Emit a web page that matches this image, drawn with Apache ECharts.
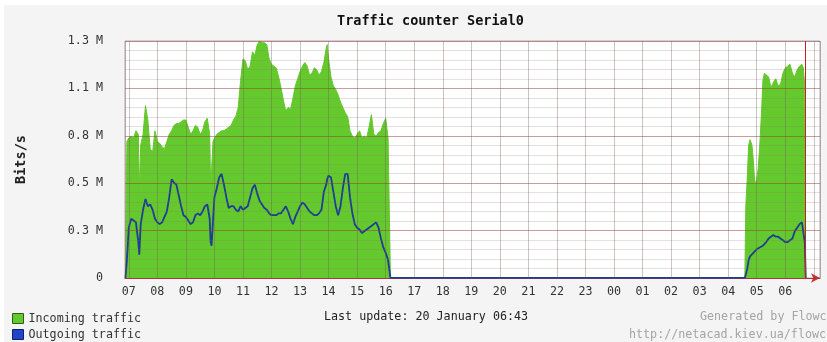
<!DOCTYPE html>
<html>
<head>
<meta charset="utf-8">
<script src="https://cdn.jsdelivr.net/npm/echarts@6/dist/echarts.min.js"></script>
<style>
  html, body { margin: 0; padding: 0; background: #ffffff; }
  #frame { position: relative; width: 827px; height: 342px; overflow: hidden; background: #ffffff; }
  #chart { position: absolute; left: 4px; top: 5px; width: 823px; height: 337px; }
</style>
</head>
<body>
<div id="frame"><div id="chart"></div></div>
<script>
// Sample times (HH:MM, rolling over to the next day when the clock wraps)
const times = [
  '06:53','06:56','07:00','07:05','07:10','07:15','07:20','07:22','07:25','07:30',
  '07:35','07:40','07:45','07:50','07:55','08:00','08:05','08:10','08:15','08:20',
  '08:25','08:30','08:35','08:40','08:45','08:50','08:55','09:00','09:05','09:10',
  '09:15','09:20','09:25','09:30','09:35','09:40','09:45','09:50','09:52','09:54',
  '09:57','10:00','10:05','10:10','10:15','10:20','10:25','10:30','10:35','10:40',
  '10:45','10:50','10:55','11:00','11:05','11:10','11:15','11:20','11:25','11:30',
  '11:35','11:40','11:45','11:50','11:55','12:00','12:05','12:10','12:15','12:20',
  '12:25','12:30','12:35','12:40','12:45','12:50','12:55','13:00','13:05','13:10',
  '13:15','13:20','13:25','13:30','13:35','13:40','13:45','13:50','13:55','13:57',
  '14:00','14:05','14:10','14:15','14:20','14:25','14:30','14:35','14:40','14:45',
  '14:50','14:55','15:00','15:05','15:10','15:15','15:20','15:25','15:30','15:35',
  '15:40','15:45','15:50','15:55','16:00','16:05','16:10',
  '04:35','04:37','04:40','04:43','04:46','04:50','04:53','04:56','05:00','05:03',
  '05:06','05:10','05:13','05:16','05:20','05:25','05:30','05:35','05:40','05:45',
  '05:50','05:55','06:00','06:05','06:10','06:15','06:20','06:25','06:30','06:35',
  '06:38','06:41','06:43'
];

// Incoming traffic, Mbit/s
const incoming = [
  0.00,0.76,0.78,0.79,0.78,0.82,0.80,0.48,0.74,0.80,
  0.96,0.88,0.72,0.70,0.82,0.76,0.75,0.73,0.72,0.76,
  0.80,0.82,0.85,0.86,0.86,0.87,0.88,0.88,0.84,0.80,
  0.82,0.85,0.84,0.80,0.82,0.87,0.89,0.80,0.52,0.60,
  0.76,0.78,0.80,0.81,0.82,0.82,0.83,0.84,0.85,0.88,
  0.90,0.95,1.10,1.22,1.21,1.16,1.18,1.26,1.24,1.30,
  1.32,1.31,1.31,1.30,1.22,1.19,1.18,1.17,1.12,1.06,
  0.99,0.93,0.95,0.94,1.00,1.07,1.11,1.15,1.18,1.20,
  1.18,1.13,1.14,1.17,1.16,1.13,1.15,1.20,1.28,1.30,
  1.22,1.12,1.07,1.05,1.02,0.98,0.95,0.92,0.90,0.82,
  0.79,0.78,0.80,0.82,0.78,0.79,0.78,0.84,0.91,0.80,
  0.79,0.81,0.82,0.86,0.89,0.78,0.00,
  0.00,0.40,0.55,0.74,0.77,0.74,0.65,0.52,0.55,0.61,
  0.72,0.92,1.10,1.14,1.15,1.12,1.06,1.09,1.11,1.07,
  1.08,1.14,1.17,1.18,1.19,1.14,1.12,1.16,1.18,1.19,
  1.17,1.07,0.00
];

// Outgoing traffic, Mbit/s
const outgoing = [
  0.00,0.10,0.28,0.33,0.32,0.31,0.20,0.13,0.30,0.38,
  0.44,0.40,0.41,0.38,0.33,0.31,0.30,0.31,0.34,0.37,
  0.45,0.55,0.53,0.52,0.46,0.40,0.35,0.34,0.32,0.30,
  0.31,0.35,0.36,0.35,0.37,0.40,0.41,0.33,0.20,0.18,
  0.32,0.45,0.50,0.56,0.58,0.52,0.45,0.39,0.40,0.40,
  0.38,0.37,0.40,0.38,0.39,0.40,0.45,0.50,0.52,0.47,
  0.43,0.41,0.39,0.38,0.36,0.35,0.35,0.35,0.36,0.36,
  0.38,0.40,0.37,0.33,0.30,0.34,0.37,0.40,0.42,0.41,
  0.39,0.37,0.36,0.35,0.35,0.36,0.38,0.48,0.52,0.55,
  0.57,0.56,0.48,0.40,0.35,0.40,0.50,0.58,0.58,0.45,
  0.36,0.30,0.28,0.27,0.25,0.26,0.27,0.28,0.29,0.30,
  0.31,0.28,0.22,0.17,0.14,0.10,0.00,
  0.00,0.02,0.05,0.10,0.12,0.13,0.14,0.15,0.16,0.16,
  0.17,0.18,0.18,0.19,0.20,0.22,0.23,0.24,0.23,0.23,
  0.22,0.21,0.20,0.20,0.21,0.22,0.26,0.28,0.30,0.31,
  0.30,0.20,0.00
];

// Y scale and its tick labels
const Y_MAX = 1.32;
const Y_STEP = 0.264;
const yTickLabels = ['0', '0.3 M', '0.5 M', '0.8 M', '1.1 M', '1.3 M'];

// Visible time window and the last update mark
const VIEW_START = '06:52';
const VIEW_END = '07:13';
const LAST_UPDATE = '06:43';
const LAST_UPDATE_DAY = '20 January';

const MONO = 'DejaVu Sans Mono';
const GREEN = '#63c92c';
const BLUE = '#1d3d96';

const MIN = 60 * 1000;
const DAY = 24 * 60 * MIN;
const BASE = Date.UTC(2000, 0, 19);

function toMinutes(s) {
  const p = s.split(':').map(Number);
  return p[0] * 60 + p[1];
}

// Convert clock strings to timestamps, moving to the next day on wrap
const stamps = [];
(function () {
  let day = 0, prev = -1;
  for (const t of times) {
    const m = toMinutes(t);
    if (m < prev) day++;
    prev = m;
    stamps.push(BASE + day * DAY + m * MIN);
  }
})();

const xMin = BASE + toMinutes(VIEW_START) * MIN;
const xMax = BASE + DAY + toMinutes(VIEW_END) * MIN;
const lastUpdateStamp = BASE + DAY + toMinutes(LAST_UPDATE) * MIN;

const inData = stamps.map((s, i) => [s, incoming[i]]);
const outData = stamps.map((s, i) => [s, outgoing[i]]);

const pad2 = n => (n < 10 ? '0' : '') + n;

const chart = echarts.init(document.getElementById('chart'), null, { renderer: 'canvas' });

chart.setOption({
  animation: false,
  useUTC: true,
  backgroundColor: '#f4f4f4',
  title: [
    { text: 'Traffic counter Serial0', left: 333, top: 9, padding: 0,
      textStyle: { fontFamily: MONO, fontWeight: 'bold', fontSize: 13.5, color: '#111' } },
    { text: 'Last update: ' + LAST_UPDATE_DAY + ' ' + LAST_UPDATE, left: 320, top: 306, padding: 0,
      textStyle: { fontFamily: MONO, fontWeight: 'normal', fontSize: 11.7, color: '#222' } },
    { text: 'Generated by Flowc', left: 696, top: 306, padding: 0,
      textStyle: { fontFamily: MONO, fontWeight: 'normal', fontSize: 11.7, color: '#a4a4a4' } },
    { text: 'http://netacad.kiev.ua/flowc', left: 625, top: 324, padding: 0,
      textStyle: { fontFamily: MONO, fontWeight: 'normal', fontSize: 11.7, color: '#a4a4a4' } }
  ],
  legend: {
    orient: 'vertical', left: 8, top: 307, height: 40, padding: 0,
    itemWidth: 11, itemHeight: 10, itemGap: 3, icon: 'rect', selectedMode: false,
    textStyle: { fontFamily: MONO, fontSize: 11.7, color: '#333', lineHeight: 13 },
    data: [
      { name: 'Incoming traffic', itemStyle: { color: GREEN, borderColor: '#2f5e18', borderWidth: 1 } },
      { name: 'Outgoing traffic', itemStyle: { color: '#2145c8', borderColor: '#10206e', borderWidth: 1 } }
    ]
  },
  grid: {
    left: 121, right: 7, top: 36, bottom: 64,
    show: true, backgroundColor: '#ffffff', borderColor: '#b4a8a8', borderWidth: 1
  },
  xAxis: [
    {
      type: 'time', min: xMin, max: xMax, minInterval: 60 * MIN, maxInterval: 60 * MIN,
      axisLine: { show: true, lineStyle: { color: '#c83030', width: 1 },
                  symbol: ['none', 'arrow'], symbolSize: [7, 9] },
      axisTick: { show: false },
      splitLine: { show: false },
      axisLabel: {
        // hours past the last update are left unlabelled
        formatter: v => (v > lastUpdateStamp ? '' : pad2(new Date(v).getUTCHours())),
        color: '#333', fontFamily: MONO, fontSize: 11.7, margin: 8,
        showMinLabel: false, showMaxLabel: false, hideOverlap: false, interval: 0
      }
    },
    {
      type: 'time', min: xMin, max: xMax, minInterval: 60 * MIN, maxInterval: 60 * MIN, z: 5,
      axisLine: { show: false }, axisTick: { show: false }, axisLabel: { show: false },
      splitLine: { show: true, lineStyle: { color: 'rgba(120,90,90,0.36)', width: 1 } }
    }
  ],
  yAxis: [
    {
      type: 'value', min: 0, max: Y_MAX, interval: Y_STEP,
      name: 'Bits/s', nameLocation: 'middle', nameGap: 97, nameRotate: 90,
      nameTextStyle: { fontFamily: MONO, fontWeight: 'bold', fontSize: 13.5, color: '#222' },
      axisLine: { show: false }, axisTick: { show: false }, splitLine: { show: false },
      axisLabel: {
        formatter: v => yTickLabels[Math.round(v / Y_STEP)],
        margin: 22, color: '#333', fontFamily: MONO, fontSize: 11.7
      }
    },
    {
      type: 'value', min: 0, max: Y_MAX, interval: Y_STEP, z: 5,
      axisLine: { show: false }, axisTick: { show: false }, axisLabel: { show: false },
      splitLine: { show: true, lineStyle: { color: 'rgba(150,60,60,0.5)', width: 1 } },
      minorTick: { show: false, splitNumber: 5 },
      minorSplitLine: { show: true, lineStyle: { color: 'rgba(160,110,110,0.22)', width: 1 } }
    }
  ],
  series: [
    {
      name: 'Incoming traffic', type: 'line', xAxisIndex: 0, yAxisIndex: 0,
      data: inData, symbol: 'none', z: 2,
      lineStyle: { width: 1, color: GREEN }, itemStyle: { color: GREEN },
      areaStyle: { color: GREEN, opacity: 1 },
      markLine: {
        silent: true, symbol: ['none', 'none'], label: { show: false },
        lineStyle: { color: '#cc2020', width: 1, type: 'solid' },
        data: [{ xAxis: lastUpdateStamp }]
      }
    },
    {
      name: 'Outgoing traffic', type: 'line', xAxisIndex: 0, yAxisIndex: 0,
      data: outData, symbol: 'none', z: 3,
      lineStyle: { width: 1.8, color: BLUE }, itemStyle: { color: BLUE }
    }
  ]
});
</script>
</body>
</html>
